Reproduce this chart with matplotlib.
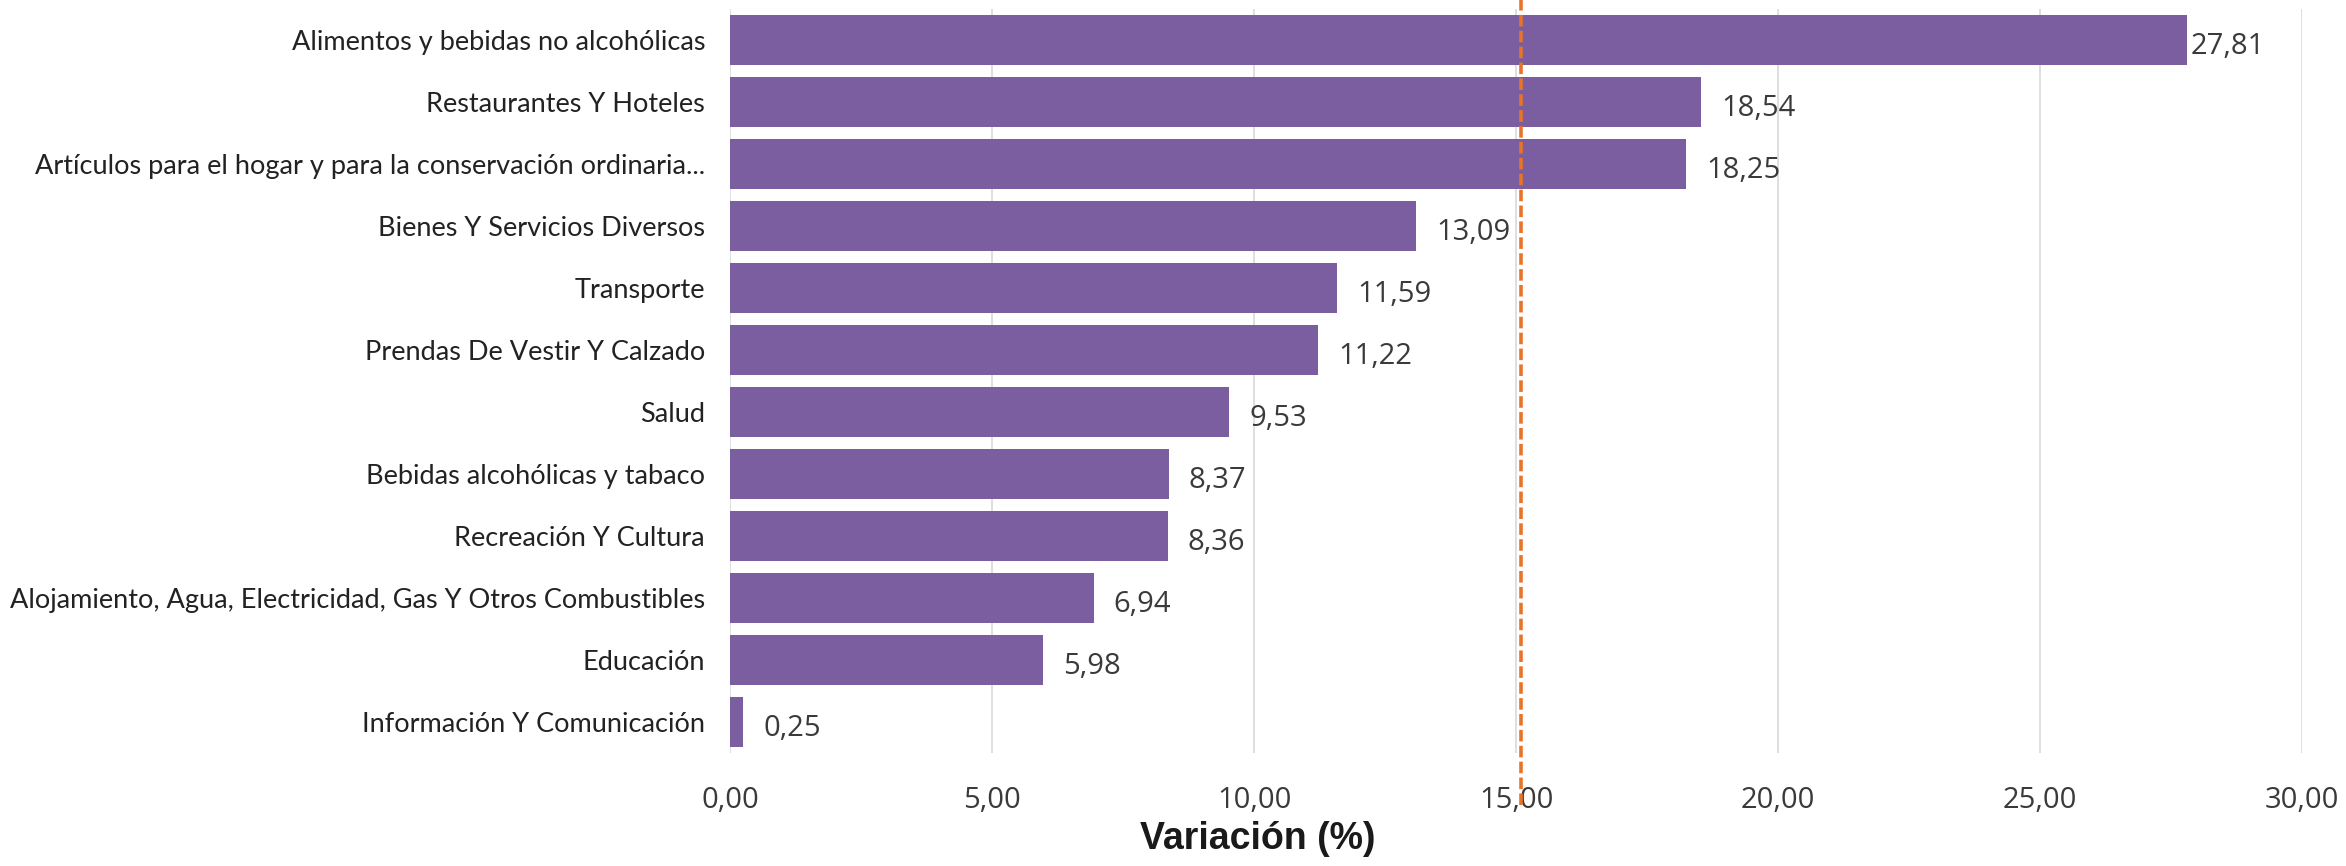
import matplotlib
matplotlib.use("Agg")
import matplotlib.pyplot as plt
import matplotlib.transforms as mtransforms
import numpy as np

# categorias y variacion (%), de arriba hacia abajo
categorias = [
    "Alimentos y bebidas no alcohólicas",
    "Restaurantes Y Hoteles",
    "Artículos para el hogar y para la conservación ordinaria...",
    "Bienes Y Servicios Diversos",
    "Transporte",
    "Prendas De Vestir Y Calzado",
    "Salud",
    "Bebidas alcohólicas y tabaco",
    "Recreación Y Cultura",
    "Alojamiento, Agua, Electricidad, Gas Y Otros Combustibles",
    "Educación",
    "Información Y Comunicación",
]
variacion = [27.81, 18.54, 18.25, 13.09, 11.59, 11.22, 9.53, 8.37, 8.36, 6.94, 5.98, 0.25]
referencia = 15.1
ticks_x = [0, 5, 10, 15, 20, 25, 30]

color_barra = "#7b5ea0"
color_linea = "#e8742a"
texto = "#3a3a3a"

fig = plt.figure(figsize=(23.46, 8.66), dpi=100)
ax = fig.add_axes([730 / 2346, 1 - 753 / 866, (2302 - 730) / 2346, 744 / 866])

y = np.arange(len(categorias))
ax.barh(y, variacion, height=0.8, color=color_barra, zorder=2)
ax.set_ylim(len(categorias) - 0.5, -0.5)
ax.set_xlim(0, 30)

# etiquetas de valor
for i, v in enumerate(variacion):
    pad = 0.06 if v > 27 else 0.38
    ax.text(v + pad, i + 0.1, f"{v:.2f}".replace(".", ","), va="center", ha="left",
            fontsize=21, family=["Open Sans", "DejaVu Sans"], color=texto)

ax.set_yticks(y)
ax.set_yticklabels(categorias, fontsize=19.5, family=["Lato", "DejaVu Sans"], color="#222222")
ax.set_xticks(ticks_x)
ax.set_xticklabels([f"{t:.2f}".replace(".", ",") for t in ticks_x], fontsize=21,
                   family=["Open Sans", "DejaVu Sans"], color=texto)
ax.tick_params(axis="both", length=0)
ax.tick_params(axis="x", pad=24)
ax.tick_params(axis="y", pad=18)

ax.grid(axis="x", color="#d9d9d9", linewidth=1.2, zorder=0)
for s in ax.spines.values():
    s.set_visible(False)

# linea de referencia punteada, sale del area del grafico
trans = mtransforms.blended_transform_factory(ax.transData, ax.transAxes)
ax.plot([referencia, referencia], [-0.07, 1.02], transform=trans, color=color_linea,
        linewidth=2.6, linestyle=(0, (3.2, 1.2)), clip_on=False, zorder=3)

fig.text(1258 / 2346, 1 - 839 / 866, "Variación (%)", ha="center", va="center",
         fontsize=27, fontweight="bold", family=["Liberation Sans", "DejaVu Sans"], color="#1a1a1a")

fig.savefig("out.png", dpi=100)
